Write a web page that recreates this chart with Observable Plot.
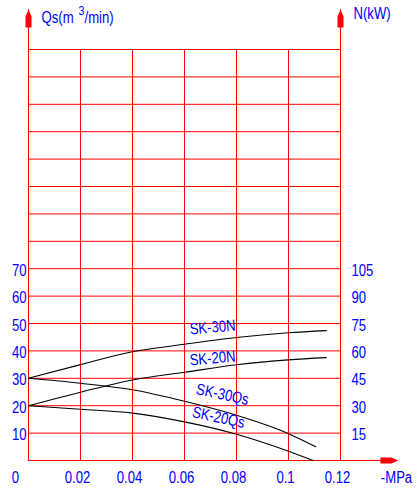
<!DOCTYPE html>
<html>
<head>
<meta charset="utf-8">
<script src="https://cdn.jsdelivr.net/npm/d3@7"></script>
<script src="https://cdn.jsdelivr.net/npm/@observablehq/plot@0.6"></script>
<style>
  html, body { margin: 0; padding: 0; background: #fff; }
  svg { display: block; }
</style>
</head>
<body>
<div id="chart"></div>
<script>
// ---- Data ----
const xTicks = [0, 0.02, 0.04, 0.06, 0.08, 0.1, 0.12];
const xTickLabels = ["0", "0.02", "0.04", "0.06", "0.08", "0.1", "0.12"];
const yGrid = [0, 10, 20, 30, 40, 50, 60, 70, 80, 90, 100, 110, 120, 130, 140, 150];
const qsTicks = [10, 20, 30, 40, 50, 60, 70];          // Qs (m3/min), left
const nTicks = [15, 30, 45, 60, 75, 90, 105];           // N (kW), right
const nPerQs = 1.5;                                      // right axis = 1.5 x left axis

// power curves (kW) vs vacuum (-MPa)
const sk30N_P  = [0, 0.02, 0.04, 0.06, 0.08, 0.10, 0.1145];
const sk30N_kW = [45, 52.5, 59.5, 63.6, 67.3, 69.9, 71.1];
const sk20N_P  = [0, 0.02, 0.04, 0.06, 0.08, 0.10, 0.1145];
const sk20N_kW = [30, 37.4, 44.1, 48.3, 52.4, 55.1, 56.3];
// capacity curves (m3/min) vs vacuum (-MPa)
const sk30Qs_P = [0, 0.02, 0.04, 0.06, 0.08, 0.10, 0.1105];
const sk30Qs_Q = [30, 28.2, 25.8, 21.6, 16.5, 9.8, 5.0];
const sk20Qs_P = [0, 0.02, 0.04, 0.06, 0.08, 0.10, 0.1095];
const sk20Qs_Q = [20, 18.7, 17.3, 14.1, 9.6, 3.4, 0];

const seriesNames = ["SK-30N", "SK-20N", "SK-30Qs", "SK-20Qs"];

// ---- Build tables ----
const rows = [
  ...sk30N_P.map((p, i) => ({name: "SK-30N", p, v: sk30N_kW[i] / nPerQs})),
  ...sk20N_P.map((p, i) => ({name: "SK-20N", p, v: sk20N_kW[i] / nPerQs})),
  ...sk30Qs_P.map((p, i) => ({name: "SK-30Qs", p, v: sk30Qs_Q[i]})),
  ...sk20Qs_P.map((p, i) => ({name: "SK-20Qs", p, v: sk20Qs_Q[i]}))
];
const labels = [
  {name: "SK-30N", p: 0.0708, v: 48.6, a: -5},
  {name: "SK-20N", p: 0.0708, v: 37.3, a: -5},
  {name: "SK-30Qs", p: 0.0746, v: 24.1, a: 12},
  {name: "SK-20Qs", p: 0.0731, v: 15.7, a: 12}
];
const xLabelRows = xTicks.map((v, i) => ({v, t: xTickLabels[i]}));

const RED = "#ff0000", BLUE = "#0000ff";
const FONT = "'Liberation Sans', Arial, sans-serif";

const arrowUp = {
  draw(c) {
    c.moveTo(0, -9); c.lineTo(3, -2); c.lineTo(3, 9);
    c.lineTo(-3, 9); c.lineTo(-3, -2); c.closePath();
  }
};

const chart = Plot.plot({
  width: 417,
  height: 488,
  marginLeft: 28,
  marginRight: 77,
  marginTop: 49,
  marginBottom: 28,
  x: {domain: [0, 0.12], axis: null},
  y: {domain: [0, 150], axis: null},
  style: {background: "#fff", fontFamily: FONT, fontSize: "16px"},
  marks: [
    // grid
    Plot.ruleX(xTicks, {x: d => d, y1: 0, y2: 150, stroke: RED, strokeWidth: 1}),
    Plot.ruleY(yGrid, {y: d => d, x1: 0, x2: 0.12, stroke: RED, strokeWidth: 1}),
    // axis extensions
    Plot.ruleX([0, 0.12], {x: d => d, y1: 150, y2: 164.5, stroke: RED, strokeWidth: 1}),
    Plot.ruleY([0], {y: d => d, x1: 0.12, x2: 0.1415, stroke: RED, strokeWidth: 1}),
    // arrowheads
    Plot.dot([0, 0.12], {x: d => d, y: () => 161.3, symbol: arrowUp, fill: RED, stroke: "none"}),
    Plot.dot([0], {x: () => 0.1388, y: d => d, symbol: arrowUp, rotate: 90, fill: RED, stroke: "none"}),
    // curves
    Plot.line(rows, {x: "p", y: "v", z: "name", stroke: "#000", strokeWidth: 1.1, curve: "monotone-x"}),
    // curve labels
    Plot.text(labels, {x: "p", y: "v", text: "name", rotate: "a", fill: BLUE, fontSize: 16,
      textAnchor: "middle", lineAnchor: "middle"}),
    // left tick labels (Qs)
    Plot.text(qsTicks, {x: () => 0, y: d => d, text: d => String(d), textAnchor: "end",
      lineAnchor: "middle", dx: -2, dy: 2, fill: BLUE, fontSize: 16}),
    // right tick labels (N)
    Plot.text(nTicks, {x: () => 0.12, y: d => d / nPerQs, text: d => String(d), textAnchor: "start",
      lineAnchor: "middle", dx: 11, dy: 2, fill: BLUE, fontSize: 16}),
    // x tick labels
    Plot.text(xLabelRows.filter(d => d.v === 0), {x: "v", y: () => 0, text: "t", textAnchor: "middle",
      lineAnchor: "middle", dx: -13, dy: 17.5, fill: BLUE, fontSize: 16}),
    Plot.text(xLabelRows.filter(d => d.v !== 0), {x: "v", y: () => 0, text: "t", textAnchor: "middle",
      lineAnchor: "middle", dx: -3, dy: 17.5, fill: BLUE, fontSize: 16}),
    Plot.text(["-MPa"], {frameAnchor: "bottom-right", text: d => d, textAnchor: "middle",
      lineAnchor: "middle", dx: 56, dy: 17.5, fill: BLUE, fontSize: 16}),
    // axis titles
    Plot.text(["Qs(m"], {frameAnchor: "top-left", text: d => d, textAnchor: "start",
      lineAnchor: "middle", dx: 13, dy: -32, fill: BLUE, fontSize: 16}),
    Plot.text(["3"], {frameAnchor: "top-left", text: d => d, textAnchor: "start",
      lineAnchor: "middle", dx: 50, dy: -39, fill: BLUE, fontSize: 13}),
    Plot.text(["/min)"], {frameAnchor: "top-left", text: d => d, textAnchor: "start",
      lineAnchor: "middle", dx: 56, dy: -32, fill: BLUE, fontSize: 16}),
    Plot.text(["N(kW)"], {frameAnchor: "top-right", text: d => d, textAnchor: "start",
      lineAnchor: "middle", dx: 13, dy: -35.5, fill: BLUE, fontSize: 16})
  ]
});

// narrow the glyphs horizontally (CAD-style condensed lettering), scaling about each anchor
const SX = 0.82;
chart.querySelectorAll("text").forEach(t => {
  const tr = t.getAttribute("transform") || "";
  if (t.hasAttribute("x")) {
    const x = parseFloat(t.getAttribute("x"));
    if (!isNaN(x)) t.setAttribute("x", x / SX);
  }
  t.setAttribute("transform", `${tr} scale(${SX},1)`);
});
document.getElementById("chart").appendChild(chart);
</script>
</body>
</html>
